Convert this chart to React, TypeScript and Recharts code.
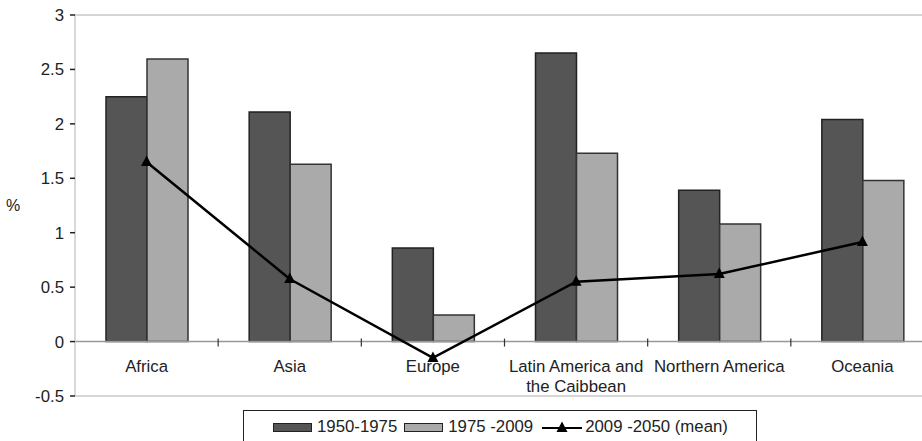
import {
  ComposedChart, Bar, Line, XAxis, YAxis, ReferenceLine, Legend
} from "recharts";

// datos
const regiones = ["Africa", "Asia", "Europe", "Latin America and the Caibbean", "Northern America", "Oceania"];
const p1950_1975 = [2.25, 2.11, 0.86, 2.65, 1.39, 2.04];
const p1975_2009 = [2.595, 1.63, 0.245, 1.73, 1.08, 1.48];
const p2009_2050 = [1.65, 0.575, -0.15, 0.55, 0.62, 0.915];
const ticksY = [-0.5, 0, 0.5, 1, 1.5, 2, 2.5, 3];

const FONT = '"Liberation Sans", Arial, sans-serif';

// medidas del area de trazado
const TOP = 15;
const BOTTOM = 396;
const Y_MIN = -0.5;
const Y_MAX = 3;
const ZERO_Y = TOP + ((Y_MAX - 0) / (Y_MAX - Y_MIN)) * (BOTTOM - TOP);

const data = regiones.map((r, i) => ({
  region: r,
  a: p1950_1975[i],
  b: p1975_2009[i],
  c: p2009_2050[i],
}));

// etiquetas partidas en dos lineas
const lineas: Record<string, string[]> = {
  "Latin America and the Caibbean": ["Latin America and", "the Caibbean"],
};

function TickX(props: any) {
  const { x, payload } = props;
  const band = payload.offset ? payload.offset : 71.5;
  const partes = lineas[payload.value] || [payload.value];
  return (
    <g>
      <line x1={x + band} x2={x + band} y1={ZERO_Y - 3} y2={ZERO_Y + 5} stroke="#333" strokeWidth={1.2} />
      {partes.map((t, k) => (
        <text
          key={k}
          x={x}
          y={ZERO_Y + 30 + k * 20}
          textAnchor="middle"
          fontSize={16.8}
          fontFamily={FONT}
          fill="#222"
        >
          {t}
        </text>
      ))}
    </g>
  );
}

function Triangulo(props: any) {
  const { cx, cy } = props;
  if (cx == null || cy == null) return null;
  return <path d={`M${cx},${cy - 6.5} L${cx + 5.5},${cy + 4} L${cx - 5.5},${cy + 4} Z`} fill="#000" />;
}

function Leyenda() {
  const caja = { width: 39, height: 9, boxSizing: "border-box" as const, border: "1.5px solid #222" };
  return (
    <div
      style={{
        width: 514,
        height: 40,
        boxSizing: "border-box",
        border: "1px solid #222",
        display: "flex",
        alignItems: "center",
        paddingLeft: 29,
        paddingBottom: 6,
        fontFamily: FONT,
        fontSize: 16.8,
        color: "#222",
        background: "#fff",
        whiteSpace: "nowrap",
      }}
    >
      <div style={{ ...caja, background: "#555555", marginRight: 5 }} />
      <span style={{ marginRight: 7 }}>1950-1975</span>
      <div style={{ ...caja, background: "#aaaaaa", marginRight: 5 }} />
      <span style={{ marginRight: 9 }}>1975 -2009</span>
      <svg width={40} height={14} style={{ marginRight: 3 }}>
        <line x1={0} x2={40} y1={8} y2={8} stroke="#000" strokeWidth={2} />
        <path d="M20,1.5 L25.5,12 L14.5,12 Z" fill="#000" />
      </svg>
      <span>2009 -2050 (mean)</span>
    </div>
  );
}

export default function App() {
  return (
    <div
      style={{
        position: "absolute",
        left: 0,
        top: 0,
        width: 922,
        height: 441,
        overflow: "hidden",
        background: "#fff",
      }}
    >
      <ComposedChart
        width={934}
        height={441}
        data={data}
        margin={{ top: TOP, right: 0, bottom: 15, left: 0 }}
        barGap={0}
      >
        {/* bordes del area de trazado */}
        <ReferenceLine y={Y_MAX} stroke="#d6d6d6" strokeWidth={2} />
        <ReferenceLine y={Y_MIN} stroke="#d6d6d6" strokeWidth={2} />

        <XAxis
          dataKey="region"
          height={30}
          interval={0}
          axisLine={false}
          tickLine={false}
          tick={<TickX />}
        />
        <YAxis
          width={75}
          domain={[Y_MIN, Y_MAX]}
          ticks={ticksY}
          interval={0}
          axisLine={{ stroke: "#cccccc", strokeWidth: 1.5 }}
          tickLine={{ stroke: "#222", strokeWidth: 1.5 }}
          tickSize={5}
          tickMargin={6}
          tick={{ fontSize: 16.8, fontFamily: FONT, fill: "#222" }}
          label={{ value: "%", position: "insideLeft", offset: 6, fontSize: 16, fontFamily: FONT, fill: "#222" }}
        />

        <Legend
          layout="horizontal"
          verticalAlign="middle"
          align="center"
          wrapperStyle={{ top: 410, left: 243, width: 514, height: 40 }}
          content={() => <Leyenda />}
        />

        {/* Barras */}
        <Bar dataKey="a" name="1950-1975" fill="#555555" stroke="#222" strokeWidth={1.5} barSize={41} isAnimationActive={false} />
        <Bar dataKey="b" name="1975 -2009" fill="#aaaaaa" stroke="#333" strokeWidth={1.5} barSize={41} isAnimationActive={false} />

        {/* linea cero */}
        <ReferenceLine y={0} stroke="#999" strokeWidth={1.5} />

        <Line
          type="linear"
          dataKey="c"
          name="2009 -2050 (mean)"
          stroke="#000"
          strokeWidth={2.5}
          dot={<Triangulo />}
          activeDot={false}
          isAnimationActive={false}
        />
      </ComposedChart>
    </div>
  );
}
